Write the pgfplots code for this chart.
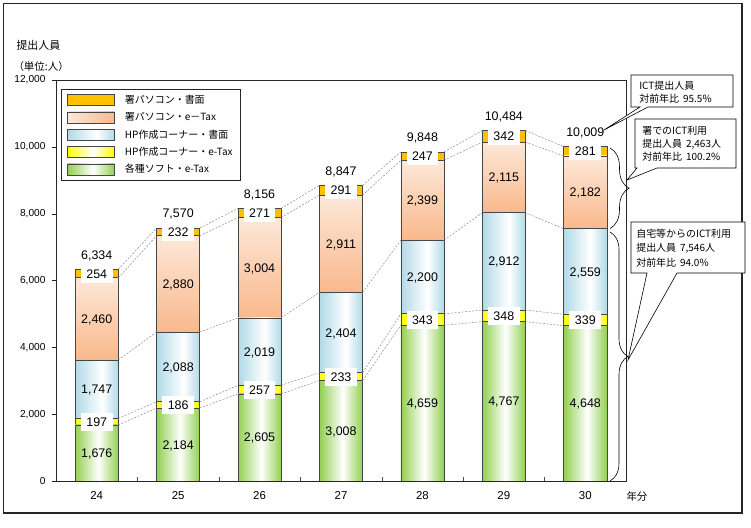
\documentclass[border=0pt]{standalone}
\usepackage{fontspec}
\setmainfont{Liberation Sans}
\newfontfamily\jp{Noto Sans CJK JP}
\usepackage{pgfplots}
\usepackage{pgfplotstable}
\pgfplotsset{compat=1.18}
\usetikzlibrary{decorations.pathreplacing}

\definecolor{cgreen}{RGB}{146,208,80}
\definecolor{cblue}{RGB}{176,218,232}
\definecolor{cyellow}{RGB}{255,255,0}
\definecolor{csalmonT}{RGB}{253,232,216}
\definecolor{csalmonB}{RGB}{249,184,140}
\definecolor{corange}{RGB}{255,192,0}
\definecolor{cedge}{RGB}{70,70,70}

\pgfdeclarehorizontalshading{greensh}{100bp}{color(0bp)=(cgreen); color(25bp)=(cgreen); color(52bp)=(white); color(75bp)=(cgreen); color(100bp)=(cgreen)}
\pgfdeclarehorizontalshading{bluesh}{100bp}{color(0bp)=(cblue); color(25bp)=(cblue); color(56bp)=(white); color(75bp)=(cblue); color(100bp)=(cblue)}
\pgfdeclarehorizontalshading{yellowsh}{100bp}{color(0bp)=(cyellow); color(25bp)=(cyellow); color(52bp)=(white); color(75bp)=(cyellow); color(100bp)=(cyellow)}

\pgfplotstableread{
x g y b s o t
0 1676 197 1747 2460 254 6334
1 2184 186 2088 2880 232 7570
2 2605 257 2019 3004 271 8156
3 3008 233 2404 2911 291 8847
4 4659 343 2200 2399 247 9848
5 4767 348 2912 2115 342 10484
6 4648 339 2559 2182 281 10009
}\data

\pgfplotsset{
  common/.style={at={(56bp,47bp)}, anchor=south west, scale only axis,
    width=570bp, height=401bp, xmin=-0.5, xmax=6.5, ymin=0, ymax=12000,
    enlargelimits=false},
  barG/.style={draw=cedge, line width=0.7bp, shade, shading=greensh},
  barY/.style={draw=cedge, line width=0.7bp, shade, shading=yellowsh},
  barB/.style={draw=cedge, line width=0.7bp, shade, shading=bluesh},
  barS/.style={draw=cedge, line width=0.7bp, top color=csalmonT, bottom color=csalmonB},
  barO/.style={draw=cedge, line width=0.7bp, fill=corange},
  conn/.style={draw=black!45, line width=0.5bp, dash pattern=on 2bp off 1.5bp, mark=none, unbounded coords=jump},
  lab/.style={draw=none, mark=none, nodes near coords, point meta=explicit,
    every node near coord/.append style={anchor=center, inner sep=0pt,
      text height=9bp, text depth=0pt, font=\fontsize{12.5}{14}\selectfont, text=black}},
  boxlab/.style={lab, every node near coord/.append style={fill=white, inner xsep=5.5bp, inner ysep=4.5bp}},
  totlab/.style={lab, every node near coord/.append style={anchor=south, yshift=10bp}},
}

\newcommand\yearbars[6]{%
\begin{axis}[common, hide axis, ybar stacked, bar width=0.53]
\addplot[barG] coordinates {(#1,#2)};
\addplot[barY] coordinates {(#1,#3)};
\addplot[barB] coordinates {(#1,#4)};
\addplot[barS] coordinates {(#1,#5)};
\addplot[barO] coordinates {(#1,#6)};
\end{axis}}

\begin{document}
\begin{tikzpicture}
\begin{scope}[x=1bp,y=1bp]
\useasboundingbox (0,0) rectangle (751,528);
\draw[line width=1.3bp, black!85] (3.5,15) rectangle (742,524.5);
\end{scope}

\begin{axis}[common,
  axis line style={black!85, line width=0.8bp},
  xtick={0,...,6}, xticklabels={24,25,26,27,28,29,30},
  minor xtick={0.5,1.5,...,5.5},
  tick pos=left, tick align=outside,
  major tick length=4bp, minor tick length=4bp,
  major x tick style={draw=none},
  minor x tick style={yshift=4bp, black!70},
  y tick style={black!85},
  ytick={0,2000,...,12000},
  scaled y ticks=false,
  /pgf/number format/1000 sep={,},
  /pgf/number format/assume math mode=true,
  yticklabel style={font=\fontsize{10.2}{12}\selectfont, xshift=-3bp},
  xticklabel style={font=\fontsize{11.5}{13}\selectfont, yshift=-3bp},
  legend style={at={(0,1)}, anchor=north west, xshift=5bp, yshift=-9bp,
    draw=black!85, line width=0.6bp, font=\jp\fontsize{10}{11}\selectfont,
    cells={anchor=west}, row sep=3.5bp, inner xsep=6bp, inner ysep=4bp},
  legend image code/.code={\draw[#1] (0bp,-5.5bp) rectangle (47bp,5.5bp); \path (55bp,0bp);},
]
\addplot[draw=none, forget plot] coordinates {(0,0)};
\addlegendimage{barO}
\addlegendentry{署パソコン・書面}
\addlegendimage{draw=cedge, line width=0.7bp, left color=csalmonT, right color=csalmonB}
\addlegendentry{署パソコン・e－Tax}
\addlegendimage{barB}
\addlegendentry{HP作成コーナー・書面}
\addlegendimage{barY}
\addlegendentry{HP作成コーナー・e-Tax}
\addlegendimage{barG}
\addlegendentry{各種ソフト・e-Tax}
\end{axis}

\yearbars{0}{1676}{197}{1747}{2460}{254}
\yearbars{1}{2184}{186}{2088}{2880}{232}
\yearbars{2}{2605}{257}{2019}{3004}{271}
\yearbars{3}{3008}{233}{2404}{2911}{291}
\yearbars{4}{4659}{343}{2200}{2399}{247}
\yearbars{5}{4767}{348}{2912}{2115}{342}
\yearbars{6}{4648}{339}{2559}{2182}{281}

\begin{axis}[common, hide axis, clip=false, /pgf/number format/1000 sep={,},
  /pgf/number format/assume math mode=true]
\addplot[conn] coordinates {(0.265,1676) (0.735,2184) (nan,nan) (1.265,2184) (1.735,2605) (nan,nan) (2.265,2605) (2.735,3008) (nan,nan) (3.265,3008) (3.735,4659) (nan,nan) (4.265,4659) (4.735,4767) (nan,nan) (5.265,4767) (5.735,4648)};
\addplot[conn] coordinates {(0.265,1873) (0.735,2370) (nan,nan) (1.265,2370) (1.735,2862) (nan,nan) (2.265,2862) (2.735,3241) (nan,nan) (3.265,3241) (3.735,5002) (nan,nan) (4.265,5002) (4.735,5115) (nan,nan) (5.265,5115) (5.735,4987)};
\addplot[conn] coordinates {(0.265,3620) (0.735,4458) (nan,nan) (1.265,4458) (1.735,4881) (nan,nan) (2.265,4881) (2.735,5645) (nan,nan) (3.265,5645) (3.735,7202) (nan,nan) (4.265,7202) (4.735,8027) (nan,nan) (5.265,8027) (5.735,7546)};
\addplot[conn] coordinates {(0.265,6080) (0.735,7338) (nan,nan) (1.265,7338) (1.735,7885) (nan,nan) (2.265,7885) (2.735,8556) (nan,nan) (3.265,8556) (3.735,9601) (nan,nan) (4.265,9601) (4.735,10142) (nan,nan) (5.265,10142) (5.735,9728)};
\addplot[conn] coordinates {(0.265,6334) (0.735,7570) (nan,nan) (1.265,7570) (1.735,8156) (nan,nan) (2.265,8156) (2.735,8847) (nan,nan) (3.265,8847) (3.735,9848) (nan,nan) (4.265,9848) (4.735,10484) (nan,nan) (5.265,10484) (5.735,10009)};

\addplot[lab] table[x=x, y expr=\thisrow{g}/2, meta=g]{\data};
\addplot[boxlab] table[x=x, y expr=\thisrow{g}+\thisrow{y}/2, meta=y]{\data};
\addplot[lab] table[x=x, y expr=\thisrow{g}+\thisrow{y}+\thisrow{b}/2, meta=b]{\data};
\addplot[lab] table[x=x, y expr=\thisrow{g}+\thisrow{y}+\thisrow{b}+\thisrow{s}/2, meta=s]{\data};
\addplot[boxlab] table[x=x, y expr=\thisrow{t}-\thisrow{o}/2, meta=o]{\data};
\addplot[totlab] table[x=x, y=t, meta=t]{\data};
\end{axis}

\begin{scope}[x=1bp,y=1bp]
\node[anchor=west, font=\jp\fontsize{11}{13}\selectfont] at (13,483) {提出人員};
\node[anchor=west, font=\jp\fontsize{10.5}{12}\selectfont] at (10,461) {（単位:人）};
\node[anchor=west, font=\jp\fontsize{10.5}{12}\selectfont] at (623,31) {年分};

\draw[decorate, decoration={brace, amplitude=19bp}, line width=0.6bp] (610,380) -- (610,299.5);
\draw[decorate, decoration={brace, amplitude=18bp}, line width=0.6bp] (610,296) -- (610,47);

\begin{scope}[line width=0.6bp, font=\jp\fontsize{10}{11}\selectfont]
\draw[fill=white] (631,453) -- (733,453) -- (733,421) -- (648,421) -- (604,398) -- (640,421) -- (631,421) -- cycle;
\node[anchor=base west, inner sep=0pt] at (639,438.5) {ICT提出人員};
\node[anchor=base west, inner sep=0pt] at (639,425.5) {対前年比\hspace{4bp}95.5\%};

\draw[fill=white] (635,409) -- (736,409) -- (736,360) -- (657,360) -- (627,348) -- (637,360) -- (635,360) -- cycle;
\node[anchor=base west, inner sep=0pt] at (642,393.5) {署でのICT利用};
\node[anchor=base west, inner sep=0pt] at (642,380.5) {提出人員\hspace{4bp}2,463人};
\node[anchor=base west, inner sep=0pt] at (642,367.5) {対前年比\hspace{4bp}100.2\%};

\draw[fill=white] (631,306) -- (745,306) -- (745,255) -- (677,255) -- (628,168) -- (647,255) -- (631,255) -- cycle;
\node[anchor=base west, inner sep=0pt] at (636,290.5) {自宅等からのICT利用};
\node[anchor=base west, inner sep=0pt] at (636,276.5) {提出人員\hspace{4bp}7,546人};
\node[anchor=base west, inner sep=0pt] at (636,261.5) {対前年比\hspace{4bp}94.0\%};
\end{scope}
\end{scope}
\end{tikzpicture}
\end{document}
